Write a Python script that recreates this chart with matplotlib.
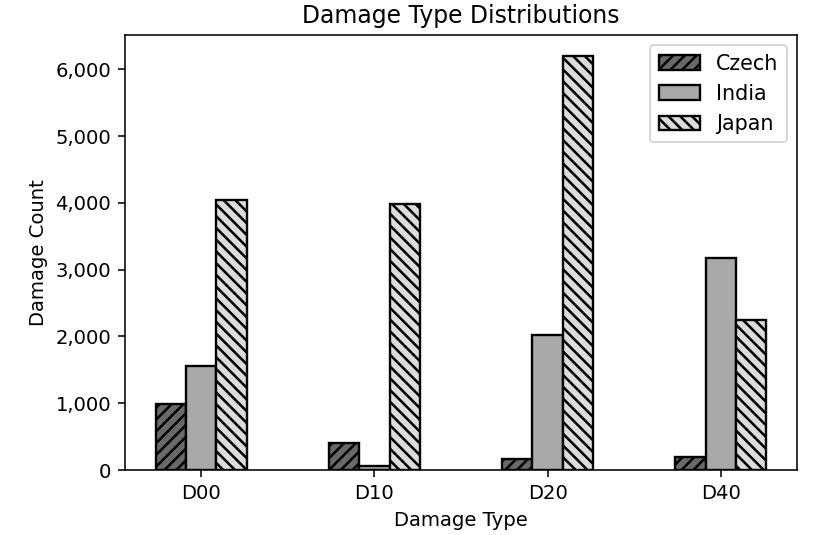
import matplotlib
matplotlib.use("Agg")
import matplotlib.pyplot as plt
import matplotlib.ticker as mticker
import numpy as np

categories = ["D00", "D10", "D20", "D40"]
czech = [990, 400, 160, 200]
india = [1557, 65, 2020, 3178]
japan = [4050, 3982, 6205, 2240]

DPI = 141
plt.rcParams["hatch.linewidth"] = 1.3
fig = plt.figure(figsize=(821 / DPI, 535 / DPI), dpi=DPI)
ax = fig.add_axes([125 / 821, 1 - 470 / 535, (797 - 125) / 821, (470 - 35) / 535])

x = np.arange(len(categories))
w = 0.175
ax.bar(x - w, czech, w, color="dimgray", edgecolor="black", linewidth=1.2, hatch="////", label="Czech")
ax.bar(x, india, w, color="darkgray", edgecolor="black", linewidth=1.2, label="India")
ax.bar(x + w, japan, w, color="gainsboro", edgecolor="black", linewidth=1.2, hatch="\\\\\\\\", label="Japan")

ax.set_xticks(x)
ax.set_xticklabels(categories)
ax.yaxis.set_major_formatter(mticker.FuncFormatter(lambda v, p: f"{int(v):,}"))
ax.set_xlabel("Damage Type")
ax.set_ylabel("Damage Count")
ax.set_title("Damage Type Distributions")
ax.legend(loc="upper right", fontsize=10.5)

fig.savefig("out.png", dpi=DPI)
